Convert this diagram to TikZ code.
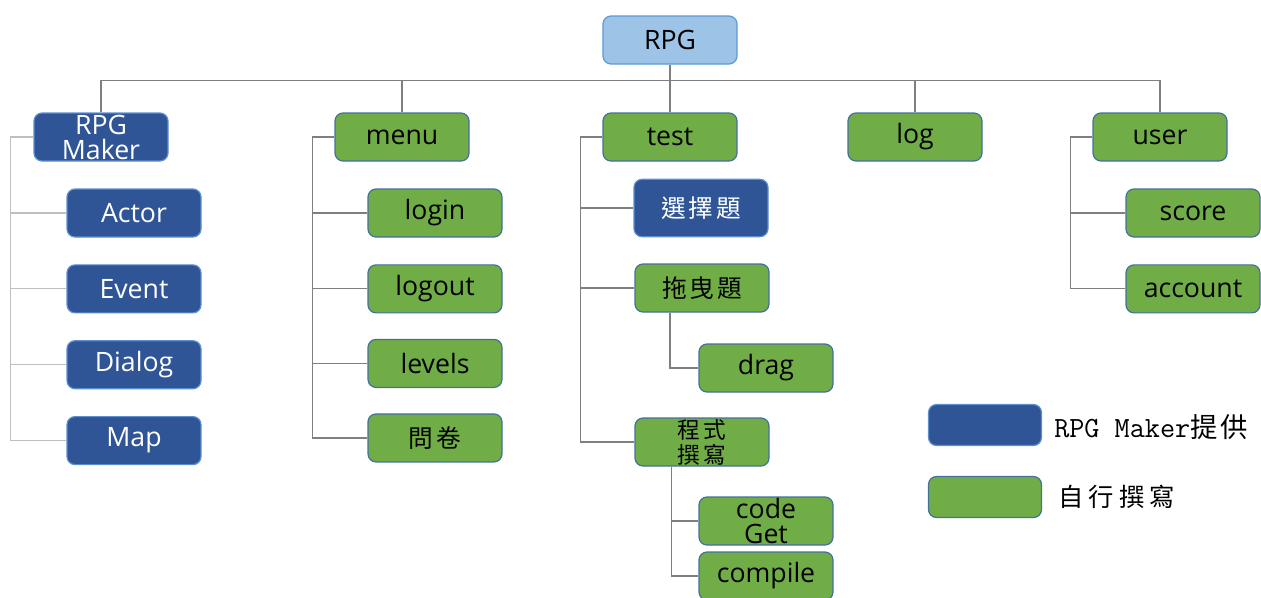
\documentclass[tikz,border=0pt]{standalone}
\usepackage{fontspec}
\setmainfont{Open Sans}
\newfontfamily\cjk[LetterSpace=12]{Noto Sans CJK TC}
\newfontfamily\legendcjk[LetterSpace=20]{Noto Sans CJK TC}
\newfontfamily\legendlat{Latin Modern Mono}
\usetikzlibrary{positioning}

\definecolor{mkblue}{HTML}{2F5597}
\definecolor{mkedge}{HTML}{5B8FD0}
\definecolor{ownfill}{HTML}{70AD47}
\definecolor{ownedge}{HTML}{41719C}
\definecolor{rootfill}{HTML}{9DC3E6}
\definecolor{rootedge}{HTML}{5B9BD5}
\definecolor{wirecol}{HTML}{7F7F7F}
\definecolor{wirelight}{HTML}{BFBFBF}

\begin{document}
\begin{tikzpicture}[x=0.75pt,y=-0.75pt,node distance=20pt,
    box/.style={rounded corners=6pt,minimum width=100.5pt,minimum height=36pt,
                inner sep=0pt,align=center,line width=0.9pt,
                font=\fontsize{20}{18.75}\selectfont},
    maker/.style={box,fill=mkblue,draw=mkedge,text=white},
    own/.style={box,fill=ownfill,draw=ownedge,text=black},
    root/.style={box,fill=rootfill,draw=rootedge,text=black},
    hanzi/.style={font=\cjk\fontsize{18.5}{18.75}\selectfont},
    smallhanzi/.style={font=\cjk\fontsize{17}{18.75}\selectfont},
    key/.style={rounded corners=6pt,minimum width=84.75pt,minimum height=30.75pt,
                inner sep=0pt,line width=0.9pt},
    wire/.style={draw=wirecol,line width=0.9pt},
    lightwire/.style={draw=wirelight,line width=0.9pt}]

    \useasboundingbox (0,0) rectangle (1261,597);

    % top level
    \node[root] (rpg) at (670,40) {RPG};

    \node[maker] (rpgm) at (101,137) {RPG\\Maker};
    \node[own] (menu) at (402,137) {menu};
    \node[own] (test) at (670,137) {test};
    \node[own] (log) at (915,137) {log};
    \node[own] (user) at (1160,137) {user};

    % RPG Maker
    \node[maker] (actor) at (134,213) {Actor};
    \node[maker] (event) [below=of actor] {Event};
    \node[maker] (dialog) [below=of event] {Dialog};
    \node[maker] (map) [below=of dialog] {Map};

    % menu
    \node[own] (login) at (435,213) {login};
    \node[own] (logout) [below=of login] {logout};
    \node[own] (levels) [below=19pt of logout] {levels};
    \node[own,hanzi] (survey) [below=19pt of levels] {問卷};

    % test
    \node[maker,hanzi,minimum height=43pt] (choice) at (701,208) {選擇題};
    \node[own,hanzi] (dragq) at (702,288) {拖曳題};
    \node[own] (drag) at (766,368) {drag};
    \node[own,smallhanzi] (coding) at (702,442) {程式\\撰寫};
    \node[own] (codeget) at (766,521) {code\\Get};
    \node[own] (compile) at (766,576) {compile};

    % user
    \node[own] (score) at (1193,213) {score};
    \node[own] (account) [below=of score] {account};

    % legend
    \node[key,fill=mkblue,draw=mkedge] (keymaker) at (985,425) {};
    \node[key,fill=ownfill,draw=ownedge] (keyown) at (985,497) {};
    \node[anchor=west,inner sep=0pt,font=\fontsize{22}{22}\selectfont] (keymakertxt) at (1054,427)
        {\legendlat RPG Maker\cjk\fontsize{20.5}{22}\selectfont 提供};
    \node[anchor=west,inner sep=0pt,font=\fontsize{19}{22}\selectfont] (keyowntxt) at (1058,497)
        {\legendcjk 自行撰寫};

    % links
    \foreach \n in {rpgm,menu,test,log,user}
        \draw[wire] (rpg.south) -- ++(0,16) -| (\n.north);

    \foreach \n in {actor,event,dialog,map}
        \draw[lightwire] (rpgm.west) -- ++(-23,0) |- (\n.west);

    \foreach \n in {login,logout,levels,survey}
        \draw[wire] (menu.west) -- ++(-22,0) |- (\n.west);

    \foreach \n in {choice,dragq,coding}
        \draw[wire] (test.west) -- ++(-22,0) |- (\n.west);

    \foreach \n in {score,account}
        \draw[wire] (user.west) -- ++(-22,0) |- (\n.west);

    \draw[wire] ([xshift=-24pt]dragq.south) |- (drag.west);
    \draw[wire] ([xshift=-23pt]coding.south) |- (codeget.west);
    \draw[wire] ([xshift=-23pt]coding.south) |- (compile.west);

\end{tikzpicture}
\end{document}
